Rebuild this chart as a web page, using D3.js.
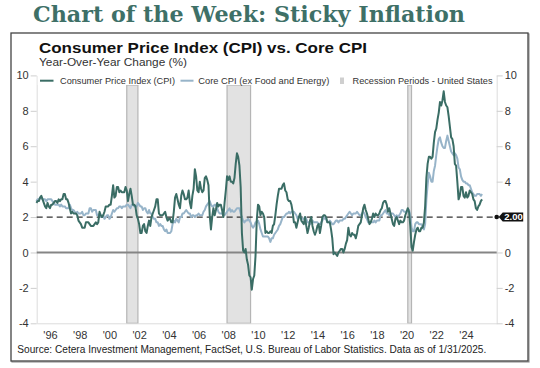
<!DOCTYPE html>
<html><head><meta charset="utf-8">
<script src="https://cdn.jsdelivr.net/npm/d3@7"></script>
<style>
html,body{margin:0;padding:0;background:#fff;}
svg{display:block;font-family:"Liberation Sans",Arial,sans-serif;}
</style></head>
<body>
<svg id="c" width="540" height="368"></svg>
<script>
// ---------- DATA ----------
const startYear = 1995; // monthly, Jan 1995 .. Jan 2025 (placed at month end)
const cpiYoY = [
 2.8,2.9,2.9,3.1,3.2,3.0,2.8,2.6,2.5,2.8,2.6,2.5,
 2.7,2.7,2.8,2.9,2.9,2.8,3.0,2.9,3.0,3.0,3.3,3.3,
 3.0,3.0,2.8,2.5,2.2,2.3,2.2,2.2,2.2,2.1,1.8,1.7,
 1.6,1.4,1.4,1.4,1.7,1.7,1.7,1.6,1.5,1.5,1.5,1.6,
 1.7,1.6,1.7,2.3,2.1,2.0,2.1,2.3,2.6,2.6,2.6,2.7,
 2.7,3.2,3.8,3.1,3.2,3.7,3.7,3.4,3.5,3.4,3.4,3.4,
 3.7,3.5,2.9,3.3,3.6,3.2,2.7,2.7,2.6,2.1,1.9,1.6,
 1.1,1.1,1.5,1.6,1.2,1.1,1.5,1.8,1.5,2.0,2.2,2.4,
 2.6,3.0,3.0,2.2,2.1,2.1,2.1,2.2,2.3,2.0,1.8,1.9,
 1.9,1.7,1.7,2.3,3.1,3.3,3.0,2.7,2.5,3.2,3.5,3.3,
 3.0,3.0,3.1,3.5,2.8,2.5,3.2,3.6,4.7,4.3,3.5,3.4,
 4.0,3.6,3.4,3.5,4.2,4.3,4.1,3.8,2.1,1.3,2.0,2.5,
 2.1,2.4,2.8,2.6,2.7,2.7,2.4,2.0,2.8,3.5,4.3,4.1,
 4.3,4.0,4.0,3.9,4.2,5.0,5.6,5.4,4.9,3.7,1.1,0.1,
 0.0,0.2,-0.4,-0.7,-1.3,-1.4,-2.1,-1.5,-1.3,-0.2,1.8,2.7,
 2.6,2.1,2.3,2.2,2.0,1.1,1.2,1.1,1.1,1.2,1.1,1.5,
 1.6,2.1,2.7,3.2,3.6,3.6,3.6,3.8,3.9,3.5,3.4,3.0,
 2.9,2.9,2.7,2.3,1.7,1.7,1.4,1.7,2.0,2.2,1.8,1.7,
 1.6,2.0,1.5,1.1,1.4,1.8,2.0,1.5,1.2,1.0,1.2,1.5,
 1.6,1.1,1.5,2.0,2.1,2.1,2.0,1.7,1.7,1.7,1.3,0.8,
 -0.1,0.0,-0.1,-0.2,0.0,0.1,0.2,0.2,0.0,0.2,0.5,0.7,
 1.4,1.0,0.9,1.1,1.0,1.0,0.8,1.1,1.5,1.6,1.7,2.1,
 2.5,2.7,2.4,2.2,1.9,1.6,1.7,1.9,2.2,2.0,2.2,2.1,
 2.1,2.2,2.4,2.5,2.8,2.9,2.9,2.7,2.3,2.5,2.2,1.9,
 1.6,1.5,1.9,2.0,1.8,1.6,1.8,1.7,1.7,1.8,2.1,2.3,
 2.5,2.3,1.5,0.3,0.1,0.6,1.0,1.3,1.4,1.2,1.2,1.4,
 1.4,1.7,2.6,4.2,5.0,5.4,5.4,5.3,5.4,6.2,6.8,7.0,
 7.5,7.9,8.5,8.3,8.6,9.1,8.5,8.3,8.2,7.7,7.1,6.5,
 6.4,6.0,5.0,4.9,4.0,3.0,3.2,3.7,3.7,3.2,3.1,3.4,
 3.1,3.2,3.5,3.4,3.3,3.0,2.9,2.5,2.4,2.6,2.7,2.9,
 3.0
];
const coreYoY = [
 2.9,3.0,3.0,3.1,3.1,3.0,3.0,3.0,2.9,3.0,3.0,3.0,
 3.0,2.9,2.8,2.7,2.7,2.7,2.7,2.6,2.7,2.6,2.6,2.6,
 2.5,2.5,2.5,2.7,2.5,2.4,2.4,2.3,2.2,2.3,2.2,2.2,
 2.2,2.3,2.1,2.1,2.2,2.2,2.2,2.5,2.5,2.3,2.4,2.4,
 2.4,2.1,2.1,2.2,2.0,2.1,2.1,1.9,2.0,2.1,2.1,1.9,
 2.0,2.2,2.4,2.3,2.4,2.5,2.5,2.6,2.6,2.5,2.6,2.6,
 2.6,2.7,2.7,2.6,2.5,2.7,2.7,2.6,2.6,2.6,2.8,2.7,
 2.6,2.6,2.4,2.5,2.5,2.3,2.2,2.4,2.2,2.2,2.0,1.9,
 1.9,1.7,1.7,1.5,1.6,1.5,1.5,1.3,1.2,1.3,1.1,1.1,
 1.1,1.2,1.6,1.8,1.7,1.9,1.8,1.7,2.0,2.0,2.2,2.2,
 2.3,2.4,2.3,2.2,2.2,2.0,2.1,2.1,2.0,2.1,2.1,2.2,
 2.1,2.1,2.1,2.3,2.4,2.6,2.7,2.8,2.9,2.7,2.6,2.6,
 2.7,2.7,2.5,2.3,2.2,2.2,2.2,2.1,2.1,2.2,2.3,2.4,
 2.5,2.3,2.4,2.3,2.3,2.4,2.5,2.5,2.5,2.2,2.0,1.8,
 1.7,1.8,1.8,1.9,1.8,1.7,1.5,1.4,1.5,1.7,1.7,1.8,
 1.6,1.3,1.1,0.9,0.9,0.9,0.9,0.9,0.8,0.6,0.8,0.8,
 1.0,1.1,1.2,1.3,1.5,1.6,1.8,2.0,2.0,2.1,2.2,2.2,
 2.3,2.2,2.3,2.3,2.3,2.2,2.1,1.9,2.0,2.0,1.9,1.9,
 1.9,2.0,1.9,1.7,1.7,1.6,1.7,1.8,1.7,1.7,1.7,1.7,
 1.6,1.6,1.7,1.8,2.0,1.9,1.9,1.7,1.7,1.8,1.7,1.6,
 1.6,1.7,1.8,1.8,1.7,1.8,1.8,1.8,1.9,1.9,2.0,2.1,
 2.2,2.3,2.2,2.1,2.2,2.2,2.2,2.3,2.2,2.1,2.1,2.2,
 2.3,2.2,2.0,1.9,1.7,1.7,1.7,1.7,1.7,1.8,1.7,1.8,
 1.8,1.8,2.1,2.1,2.2,2.3,2.4,2.2,2.2,2.1,2.2,2.2,
 2.2,2.1,2.0,2.1,2.0,2.1,2.2,2.4,2.4,2.3,2.3,2.3,
 2.3,2.4,2.1,1.4,1.2,1.2,1.6,1.7,1.7,1.6,1.6,1.6,
 1.4,1.3,1.6,3.0,3.8,4.5,4.3,4.0,4.0,4.6,4.9,5.5,
 6.0,6.4,6.5,6.2,6.0,5.9,5.9,6.3,6.6,6.3,6.0,5.7,
 5.6,5.5,5.6,5.5,5.3,4.8,4.7,4.3,4.1,4.0,4.0,3.9,
 3.9,3.8,3.8,3.6,3.4,3.3,3.2,3.2,3.3,3.3,3.3,3.2,
 3.3
];
const recessionStart = [2001.167, 2007.917, 2020.083];
const recessionEnd   = [2001.917, 2009.5,   2020.333];
const xTickYears = [1996,1998,2000,2002,2004,2006,2008,2010,2012,2014,2016,2018,2020,2022,2024];
const yTicks = [-4,-2,0,2,4,6,8,10];
const targetRate = 2.0;
const seriesNames = ["Consumer Price Index (CPI)", "Core CPI (ex Food and Energy)", "Recession Periods - United States"];

// ---------- STYLE ----------
const cpiColor = "#3a6d65", coreColor = "#97b4c9";
const svg = d3.select("#c");
const L = 36.7, R = 496.7, T = 75.4, B = 323.3;

const x = d3.scaleLinear()
  .domain([1996 + (L - 50) / 14.857, 1996 + (R - 50) / 14.857])
  .range([L, R]);
const y = d3.scaleLinear().domain([-4, 10]).range([B, T]);

const monthT = i => startYear + (i + 1) / 12;
const cpiPts = cpiYoY.map((v, i) => [monthT(i), v]);
const corePts = coreYoY.map((v, i) => [monthT(i), v]);

// Title
svg.append("text").attr("x", 33).attr("y", 21.5)
  .attr("font-family", "'DejaVu Serif', 'Liberation Serif', serif")
  .attr("font-weight", "bold").attr("font-size", 22)
  .attr("textLength", 432).attr("lengthAdjust", "spacingAndGlyphs")
  .attr("fill", "#3e7067").text("Chart of the Week: Sticky Inflation");

// Box
svg.append("rect").attr("x", 12).attr("y", 34).attr("width", 517).attr("height", 328)
  .attr("fill", "none").attr("stroke", "#999").attr("stroke-width", 1.2);
svg.append("rect").attr("x", 11).attr("y", 33).attr("width", 517).attr("height", 328)
  .attr("fill", "#fff").attr("stroke", "#444").attr("stroke-width", 1.3);

svg.append("text").attr("x", 39).attr("y", 52.5).attr("font-weight", "bold").attr("font-size", 15)
  .attr("textLength", 328).attr("lengthAdjust", "spacingAndGlyphs")
  .attr("fill", "#111").text("Consumer Price Index (CPI) vs. Core CPI");
svg.append("text").attr("x", 39).attr("y", 65.5).attr("font-size", 11)
  .attr("textLength", 148).attr("lengthAdjust", "spacingAndGlyphs")
  .attr("fill", "#333").text("Year-Over-Year Change (%)");

// Recession bands
svg.append("g").selectAll("rect").data(recessionStart).join("rect")
  .attr("x", (d) => x(d))
  .attr("width", (d, i) => x(recessionEnd[i]) - x(d))
  .attr("y", 85).attr("height", B - 85)
  .attr("fill", "#e2e2e2").attr("stroke", "#b5b5b5").attr("stroke-width", 1.2);

// Axes
function styleAxis(g) {
  g.select(".domain").attr("stroke", "#dcdcdc").attr("stroke-width", 1);
  g.selectAll(".tick line").attr("stroke", "#cfcfcf");
  g.selectAll(".tick text").attr("fill", "#333").attr("font-size", 11)
    .attr("font-family", "'Liberation Sans', Arial, sans-serif");
}
const fmtY = d => (d < 0 ? "-" + Math.abs(d) : String(d));
svg.append("g").attr("transform", `translate(${L},0)`)
  .call(d3.axisLeft(y).tickValues(yTicks).tickFormat(fmtY).tickSize(6).tickPadding(2).tickSizeOuter(0))
  .call(styleAxis);
// right axis: the target tag replaces the "2" label
svg.append("g").attr("transform", `translate(${R},0)`)
  .call(d3.axisRight(y).tickValues(yTicks.filter(d => d !== targetRate)).tickFormat(fmtY).tickSize(6).tickPadding(2).tickSizeOuter(0))
  .call(styleAxis);
svg.append("g").attr("transform", `translate(0,${B})`)
  .call(d3.axisBottom(x).tickValues(xTickYears).tickFormat(d => "'" + String(d).slice(2)).tickSize(0).tickPadding(8).tickSizeOuter(0))
  .call(styleAxis);

// Legend background + legend
svg.append("rect").attr("x", L + 1).attr("y", 74).attr("width", R - L - 2).attr("height", 11).attr("fill", "#fff");
const ly = 80.7;
svg.append("line").attr("x1", 40).attr("x2", 53.5).attr("y1", ly).attr("y2", ly).attr("stroke", cpiColor).attr("stroke-width", 2);
svg.append("text").attr("x", 60).attr("y", 84).attr("font-size", 9.5).attr("fill", "#333")
  .attr("textLength", 115).attr("lengthAdjust", "spacingAndGlyphs").text(seriesNames[0]);
svg.append("line").attr("x1", 180.5).attr("x2", 193.5).attr("y1", ly).attr("y2", ly).attr("stroke", coreColor).attr("stroke-width", 2);
svg.append("text").attr("x", 198.3).attr("y", 84).attr("font-size", 9.5).attr("fill", "#333")
  .attr("textLength", 131).attr("lengthAdjust", "spacingAndGlyphs").text(seriesNames[1]);
svg.append("rect").attr("x", 340).attr("y", 77.5).attr("width", 4).attr("height", 6.5).attr("fill", "#cfcfcf");
svg.append("text").attr("x", 352.5).attr("y", 84).attr("font-size", 9.5).attr("fill", "#333")
  .attr("textLength", 140).attr("lengthAdjust", "spacingAndGlyphs").text(seriesNames[2]);

// Zero line & target line
svg.append("line").attr("x1", L).attr("x2", R).attr("y1", y(0)).attr("y2", y(0))
  .attr("stroke", "#858585").attr("stroke-width", 2);
svg.append("line").attr("x1", L).attr("x2", R).attr("y1", y(targetRate)).attr("y2", y(targetRate))
  .attr("stroke", "#333").attr("stroke-width", 1.2).attr("stroke-dasharray", "6,4");

// Series
const line = d3.line().x(d => x(d[0])).y(d => y(d[1]));
svg.append("path").datum(corePts).attr("d", line).attr("fill", "none")
  .attr("stroke", coreColor).attr("stroke-width", 2).attr("stroke-linejoin", "round");
svg.append("path").datum(cpiPts).attr("d", line).attr("fill", "none")
  .attr("stroke", cpiColor).attr("stroke-width", 2).attr("stroke-linejoin", "round");

// 2.00 tag
const ty = y(targetRate);
svg.append("circle").attr("cx", R).attr("cy", ty).attr("r", 2.3).attr("fill", "#111");
svg.append("path")
  .attr("d", `M${R + 2},${ty} L${R + 6},${ty - 4.5} L${R + 26.5},${ty - 4.5} L${R + 26.5},${ty + 4.5} L${R + 6},${ty + 4.5} Z`)
  .attr("fill", "#111");
svg.append("text").attr("x", R + 16.8).attr("y", ty + 3.4).attr("text-anchor", "middle")
  .attr("font-size", 9.5).attr("font-weight", "bold").attr("fill", "#fff").text(d3.format(".2f")(targetRate));

// Source
svg.append("text").attr("x", 17.3).attr("y", 353).attr("font-size", 10.2).attr("fill", "#222")
  .attr("textLength", 469).attr("lengthAdjust", "spacingAndGlyphs")
  .text("Source: Cetera Investment Management, FactSet, U.S. Bureau of Labor Statistics. Data as of 1/31/2025.");
</script>
</body></html>
